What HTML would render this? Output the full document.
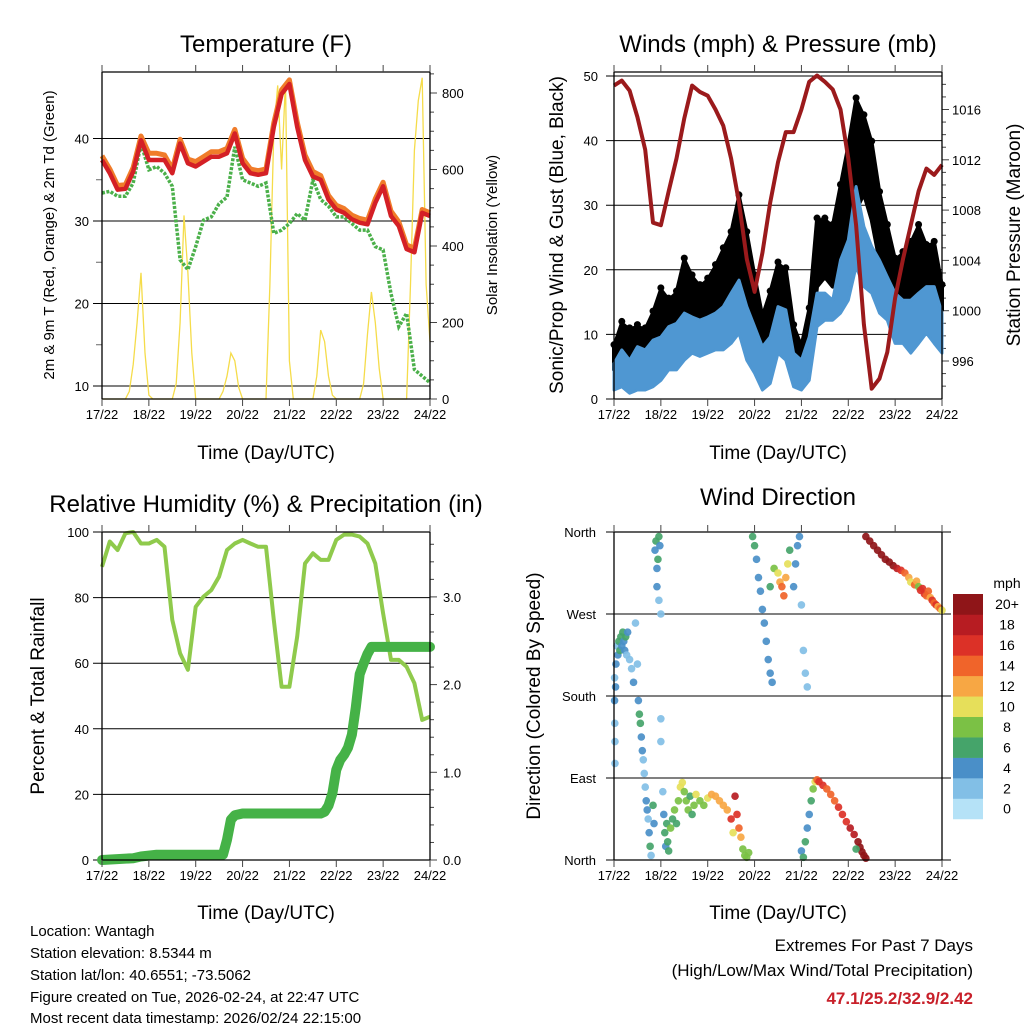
<!DOCTYPE html>
<html><head><meta charset="utf-8">
<style>
html,body{margin:0;padding:0;background:#fff;}
svg{display:block;font-family:"Liberation Sans",Arial,sans-serif;}
</style></head>
<body>
<svg id="chart" width="1024" height="1024" viewBox="0 0 1024 1024" xmlns="http://www.w3.org/2000/svg">
<rect x="0" y="0" width="1024" height="1024" fill="#fff"/>
<g id="layer"></g>
<g font-size="24" text-anchor="middle" fill="#000">
<text x="266" y="52">Temperature (F)</text>
<text x="778" y="52">Winds (mph) &amp; Pressure (mb)</text>
<text x="266" y="512">Relative Humidity (%) &amp; Precipitation (in)</text>
<text x="778" y="505">Wind Direction</text>
</g>
<g font-size="19" text-anchor="middle">
<text x="266" y="459">Time (Day/UTC)</text>
<text x="778" y="459">Time (Day/UTC)</text>
<text x="266" y="919">Time (Day/UTC)</text>
<text x="778" y="919">Time (Day/UTC)</text>
<text font-size="15" transform="translate(54,235) rotate(-90)">2m &amp; 9m T (Red, Orange) &amp; 2m Td (Green)</text>
<text font-size="15" transform="translate(497,235) rotate(-90)">Solar Insolation (Yellow)</text>
<text transform="translate(563,235) rotate(-90)">Sonic/Prop Wind &amp; Gust (Blue, Black)</text>
<text transform="translate(1020,235) rotate(-90)">Station Pressure (Maroon)</text>
<text transform="translate(44,696) rotate(-90)">Percent &amp; Total Rainfall</text>
<text transform="translate(540,696) rotate(-90)">Direction (Colored By Speed)</text>
</g>
<g font-size="15" fill="#000">
<text x="30" y="936">Location: Wantagh</text>
<text x="30" y="958">Station elevation: 8.5344 m</text>
<text x="30" y="980">Station lat/lon: 40.6551; -73.5062</text>
<text x="30" y="1002">Figure created on Tue, 2026-02-24, at 22:47 UTC</text>
<text x="30" y="1023">Most recent data timestamp: 2026/02/24 22:15:00</text>
<text x="973" y="951" font-size="17" text-anchor="end">Extremes For Past 7 Days</text>
<text x="973" y="976" font-size="17" text-anchor="end">(High/Low/Max Wind/Total Precipitation)</text>
<text x="973" y="1004" font-size="17" font-weight="bold" fill="#c8202a" text-anchor="end">47.1/25.2/32.9/2.42</text>
</g>
</svg>
<script>
// ---------- data ----------
const dayLabels = ["17/22","18/22","19/22","20/22","21/22","22/22","23/22","24/22"];
const tempTimes = [0,4,8,12,16,20,24,28,32,36,40,44,48,52,56,60,64,68,72,76,80,84,88,92,96,100,104,108,112,116,120,124,128,132,136,140,144,148,152,156,160,164,168];
const temp2m = [37.4,35.8,33.8,33.9,36,39.8,37.4,37.4,37.4,35.8,39.4,37,36.6,37.2,37.8,37.8,38.2,40.6,37,35.8,35.6,35.8,41.4,45.4,46.6,41.4,37.4,35.4,35,32.6,31.4,31,30.2,29.8,29.6,32.2,34.2,30.6,29.4,26.6,26.2,31,30.6];
const temp9m = [37.9,36.3,34.3,34.4,36.5,40.3,38.2,38.2,38,36.3,39.9,37.5,37.2,37.8,38.4,38.4,38.8,41.1,37.6,36.3,36.1,36.3,41.9,45.9,47.1,42,38,36,35.5,33.1,31.9,31.5,30.7,30.3,30.1,32.7,34.7,31.2,29.9,27.1,26.7,31.4,31];
const dewpoint = [33.4,33.6,33,33,34.6,39.4,36.2,36.6,35.8,34.2,25.3,24.1,26.9,30.1,30.5,32.1,32.9,39,35,34.6,34.2,34.6,28.5,28.9,29.7,30.9,30.1,35,32.6,31.8,30.5,30.5,29.7,28.9,28.9,26.9,26.5,21.2,17.2,18.8,12,11.2,10.4];
const solar = [0,0,0,0,0,0,0,
 20,90,200,330,120,10,0,0,0,0,0,0,
 40,200,480,330,120,0,0,0,0,0,0,0,
 20,60,120,100,30,0,0,0,0,0,0,0,
 300,700,820,600,830,100,0,0,0,0,0,0,
 60,180,150,60,10,0,0,0,0,0,0,0,
 40,170,280,200,80,0,0,0,0,0,0,0,
 300,650,780,840,300,150];
const windTimes = tempTimes;
const pressure = [1017.9,1018.3,1017.5,1015.4,1012.8,1007,1006.8,1009.5,1012.1,1015.3,1017.9,1017.4,1017.1,1016,1014.7,1012.1,1008.6,1004.1,1001.5,1004.6,1008.6,1011.8,1014.2,1014.2,1016,1018.2,1018.7,1018.2,1017.6,1016,1012.1,1006.8,998.9,993.8,994.6,996.7,1001,1004.1,1006.8,1009.5,1011.3,1010.8,1011.6];
const windHi = [5.5,7.6,6,8.1,7.6,9.1,9.6,11.2,11.7,13.3,12.7,12.2,12.7,13.3,14.3,16.4,18.4,14.3,11.2,8.1,9.6,14.3,13.8,7.1,6,9.6,16.4,16.4,15.3,21.5,24.6,32.9,26.7,23.6,21.5,18.9,16.4,15.3,15.3,16.4,17.4,17.4,13.3];
const windLo = [1.4,1.9,0.9,1.4,1.4,1.9,2.9,4.5,4.5,6,7.1,6.6,7.1,7.6,7.6,8.6,10.2,6,4,1.4,2.4,7.1,6,1.9,1.4,2.9,11.2,12.2,12.2,13.3,15.3,20.5,17.4,16.4,13.3,12.2,8.6,8.6,7.1,8.6,10.2,8.6,7.1];
const gustHi = [8.1,11.7,10.7,11.2,10.7,13.3,16.9,15.3,16.4,21.5,18.9,17.4,18.4,20.5,23.1,25.6,31.3,25.6,18.9,12.7,16.4,20.9,20,11.2,8.1,13.8,27.7,27.7,26.7,32.9,39.1,46.3,43.7,39.6,31.8,26.7,21.5,22.5,24.1,26.7,23.6,24.1,17.4];
const gustLo = [4.5,6,5,6,6,8.6,10.2,10.2,9.6,13.3,11.7,11.2,11.7,13.3,15.3,16.4,17.4,11.2,8.1,4,7.1,11.2,10.2,4,3.5,6,17.4,18.9,17.4,21.5,26.7,29.3,31.8,27.7,21.5,16.4,13.8,12.2,12.2,16.4,16.4,15.3,13.8];
const rhTimes = tempTimes;
const rh = [89.4,97.1,94.5,99.6,100,96.5,96.5,97.6,95.5,73.2,63,58,77.2,80.3,82.3,86.4,94.5,96.5,97.6,96.5,95.5,95.5,73.2,52.8,52.8,68.1,90.4,93.5,91.5,91.5,97.6,99.2,99.2,98.6,96.5,90.4,75.2,61,61,58.9,53.9,42.7,43.7];
const precipTimes = [0,16,20,28,62,64,66,68,72,112,114,116,118,120,122,124,126,128,130,132,134,136,138,140,168];
const precip = [0,0.02,0.04,0.06,0.06,0.23,0.46,0.51,0.53,0.53,0.55,0.62,0.76,1.03,1.14,1.2,1.28,1.43,1.74,2.12,2.24,2.35,2.43,2.43,2.43];
const dirTimes = [
 0.3,0.3,0.4,0.5,0.5,0.8,1,1.5,2,2.5,
 3,3.5,4,4.5,5,5.5,6,6.5,7,8,
 9,10,11,12,12.5,13,13.5,14,14.5,15,
 15.5,16,16.5,17,17.5,18,18.5,19,20,20.5,
 21,21.5,22,22.5,22,23,23,23.5,24,24,
 24,25,25.5,26,26.5,27,27.5,28,29,30,
 31,32,33,34,35,36,37,38,39,40,
 41,42,44,46,48,50,52,54,56,58,
 60,61,62,63,64,65,66,67,68,69,
 71,72,73,74,75,76,77,78,79,80,
 81,80,82,84,85,86,87,88,89,90,
 92,93,94,95,96,97,98,99,96,97,
 98,99,100,101,102,103,104,105,107,109,
 111,113,115,117,119,121,123,125,126,127,
 128,129,124,129,131,133,135,137,139,141,
 143,145,147,149,151,152,154,155,156,157,
 158,159,160,161,162,163,164,165,166,167,
 168];
const dirDeg = [
 200,175,150,130,106,190,215,235,225,240,
 230,245,235,250,240,230,245,225,250,220,
 210,195,260,215,175,160,150,135,120,110,
 95,80,65,55,45,30,15,5,60,40,
 340,350,320,330,300,285,355,345,270,155,
 130,75,50,30,15,40,20,10,35,45,
 55,40,65,80,85,75,65,55,70,50,
 60,72,65,60,68,72,70,65,60,55,
 45,30,70,50,35,25,12,5,3,8,
 355,345,330,310,295,275,260,240,220,205,
 195,300,320,315,305,300,290,310,325,340,
 300,325,345,355,280,230,205,190,10,3,
 20,35,50,65,78,86,88,86,82,78,
 72,65,58,50,42,35,28,20,14,9,
 5,2,12,355,350,345,340,335,330,327,
 323,320,318,315,310,305,302,306,300,296,
 298,292,290,295,288,285,282,280,278,276,
 274];
const dirSpd = [
 3,4,3,2,2,4,4,3,5,6,
 6,6,5,6,4,5,6,3,4,2,
 2,4,2,2,5,6,6,4,4,2,
 2,2,4,4,3,4,6,2,6,5,
 5,6,4,6,4,2,6,4,2,2,
 2,3,4,6,5,7,6,6,8,6,
 8,7,9,10,10,9,8,8,7,7,
 9,11,9,8,10,12,13,12,13,12,
 16,11,18,16,15,12,8,8,9,8,
 6,7,4,5,4,4,5,4,4,5,
 4,7,8,10,12,14,15,12,10,7,
 4,4,4,4,2,3,3,2,5,7,
 6,4,5,6,8,10,14,16,16,15,
 14,14,16,17,16,18,19,20,20,20,
 20,20,7,20,20,20,20,20,20,20,
 20,18,16,14,12,10,14,12,8,16,
 17,16,14,15,13,16,14,16,12,14,
 10];
const speedColors = ["#b5e2f7","#82bfe6","#4a8fc8","#45a46a","#7bc145","#e6df5a","#f7a744","#f0642a","#dc3127","#b71c22","#8f1518"];
const speedLabels = ["0","2","4","6","8","10","12","14","16","18","20+"];

// ---------- helpers ----------
const NS = "http://www.w3.org/2000/svg";
const layer = document.getElementById("layer");
function mk(tag, attrs, parent) {
  const e = document.createElementNS(NS, tag);
  for (const k in attrs) e.setAttribute(k, attrs[k]);
  (parent || layer).appendChild(e);
  return e;
}
function txt(x, y, s, anchor, size, parent) {
  const e = mk("text", {x: x, y: y, "text-anchor": anchor, "font-size": size}, parent);
  e.textContent = s;
  return e;
}
const TMAX = 168;
function xs(L, R) { return t => L + t / TMAX * (R - L); }
function lin(v0, y0, v1, y1) { return v => y0 + (v - v0) * (y1 - y0) / (v1 - v0); }
function pathOf(ts, vs, fx, fy) {
  return ts.map((t, i) => (i ? "L" : "M") + fx(t).toFixed(1) + "," + fy(vs[i]).toFixed(1)).join("");
}

function frame(L, R, T, B, name) {
  const g = mk("g", {});
  
  
  mk("line", {x1: L, y1: T, x2: L, y2: B, stroke: "#000", "stroke-width": 1.3}, g);
  mk("line", {x1: R, y1: T, x2: R, y2: B, stroke: "#000", "stroke-width": 1.3}, g);
  mk("line", {x1: L, y1: B, x2: R, y2: B, stroke: "#000", "stroke-width": 1.3}, g);
  mk("line", {x1: L, y1: T, x2: R, y2: T, stroke: "#000", "stroke-width": 1.3}, g);
  const fx = xs(L, R);
  dayLabels.forEach((d, i) => {
    const x = fx(i * 24);
    mk("line", {x1: x, y1: T - 7, x2: x, y2: T, stroke: "#444", "stroke-width": 1}, g);
    mk("line", {x1: x, y1: B, x2: x, y2: B + 7, stroke: "#444", "stroke-width": 1}, g);
    const t = txt(x, B + 20, d, "middle", 13, g);
    
    
  });
}
function grid(L, R, y, ext) {
  mk("line", {x1: L - ext, y1: y, x2: R, y2: y, stroke: "#000", "stroke-width": 1});
}

// ============ Panel 1: temperature ============
(function () {
  const L = 102, R = 430, T = 72, B = 399;
  const fx = xs(L, R);
  const fy = lin(30, 221, 40, 138.5);
  const fs = lin(0, 399, 800, 93);
  [10, 20, 30, 40].forEach(v => {
    grid(L, R, fy(v), 9);
    const t = txt(L - 13, fy(v) + 5, String(v), "end", 13);
    
    
  });
  [15, 25, 35].forEach(v => mk("line", {x1: L - 6, y1: fy(v), x2: L, y2: fy(v), stroke: "#666"}));
  for (let v = 0; v <= 850; v += 50) {
    const maj = v % 200 === 0;
    mk("line", {x1: R, y1: fs(v), x2: R + (maj ? 7 : 4), y2: fs(v), stroke: "#444"});
    if (maj) {
      const t = txt(R + 12, fs(v) + 5, String(v), "start", 13);
      
      
    }
  }
  const st = solar.map((_, i) => i * 2);
  const sp = mk("path", {d: pathOf(st, solar, fx, fs), fill: "none", stroke: "#f5dc4a", "stroke-width": 1.3});
  
  
  const dp = mk("path", {d: pathOf(tempTimes, dewpoint, fx, fy), fill: "none", stroke: "#4bb04a", "stroke-width": 3.5, "stroke-dasharray": "3 1.5"});
  
  
  const o = mk("path", {d: pathOf(tempTimes, temp9m, fx, fy), fill: "none", stroke: "#f07c2a", "stroke-width": 5, "stroke-linejoin": "round"});
  
  
  const r = mk("path", {d: pathOf(tempTimes, temp2m, fx, fy), fill: "none", stroke: "#d42026", "stroke-width": 4.5, "stroke-linejoin": "round"});
  
  
  frame(L, R, T, B, "temp");
})();

// ============ Panel 2: winds & pressure ============
(function () {
  const L = 614, R = 942, T = 72, B = 399;
  const fx = xs(L, R);
  const fy = lin(0, 399, 50, 76);
  const fp = lin(996, 361, 1016, 109.5);
  for (let v = 0; v <= 50; v += 10) {
    grid(L, R, fy(v), 8);
    const t = txt(L - 16, fy(v) + 5, String(v), "end", 13);
    
    
  }
  for (let v = 994; v <= 1018; v += 1) {
    const maj = v % 4 === 0;
    mk("line", {x1: R, y1: fp(v), x2: R + (maj ? 7 : 4), y2: fp(v), stroke: "#444"});
    if (maj) {
      const t = txt(R + 10, fp(v) + 5, String(v), "start", 13);
      
      
    }
  }
  const gtop = windTimes.map((t, i) => fx(t).toFixed(1) + "," + fy(gustHi[i]).toFixed(1));
  const gbot = windTimes.map((t, i) => fx(t).toFixed(1) + "," + fy(gustLo[i]).toFixed(1)).reverse();
  const gb = mk("polygon", {points: gtop.concat(gbot).join(" "), fill: "#000", stroke: "#000", "stroke-width": 4, "stroke-linejoin": "round"});
  
  
  windTimes.forEach((t, i) => {
    const c = mk("circle", {cx: fx(t), cy: fy(gustHi[i]) - 2, r: 3.5, fill: "#000"});
    
    
  });
  const btop = windTimes.map((t, i) => fx(t).toFixed(1) + "," + fy(windHi[i]).toFixed(1));
  const bbot = windTimes.map((t, i) => fx(t).toFixed(1) + "," + fy(windLo[i]).toFixed(1)).reverse();
  const bb = mk("polygon", {points: btop.concat(bbot).join(" "), fill: "#4f97d2", stroke: "#4f97d2", "stroke-width": 3, "stroke-linejoin": "round"});
  
  
  const p = mk("path", {d: pathOf(windTimes, pressure, fx, fp), fill: "none", stroke: "#9b1a1c", "stroke-width": 4, "stroke-linejoin": "round"});
  
  
  frame(L, R, T, B, "wind");
})();

// ============ Panel 3: RH & precip ============
(function () {
  const L = 102, R = 430, T = 532, B = 860;
  const fx = xs(L, R);
  const fy = lin(0, 860, 100, 532);
  const fp = lin(0, 860, 1, 772.3);
  for (let v = 0; v <= 100; v += 20) {
    grid(L, R, fy(v), 9);
    const t = txt(L - 13, fy(v) + 5, String(v), "end", 13);
    
    
  }
  for (let v = 0; v <= 3.7; v += 0.2) {
    const maj = Math.abs(v - Math.round(v)) < 0.01;
    mk("line", {x1: R, y1: fp(v), x2: R + (maj ? 7 : 4), y2: fp(v), stroke: "#444"});
    if (maj) {
      const t = txt(R + 13, fp(v) + 5, Math.round(v).toFixed(1), "start", 13);
      
      
    }
  }
  const r = mk("path", {d: pathOf(rhTimes, rh, fx, fy), fill: "none", stroke: "#8fca4c", "stroke-width": 4, "stroke-linejoin": "round"});
  
  
  const p = mk("path", {d: pathOf(precipTimes, precip, fx, fp), fill: "none", stroke: "#45b247", "stroke-width": 10, "stroke-linejoin": "round", "stroke-linecap": "round"});
  
  
  frame(L, R, T, B, "rh");
})();

// ============ Panel 4: wind direction ============
(function () {
  const L = 614, R = 942, T = 532, B = 860;
  const fx = xs(L, R);
  const fy = lin(0, 860, 360, 532);
  const names = ["North", "East", "South", "West", "North"];
  names.forEach((n, i) => {
    const y = fy(i * 90);
    mk("line", {x1: L - 8, y1: y, x2: R + 9, y2: y, stroke: "#000"});
    const t = txt(L - 18, y + 5, n, "end", 13);
    
    
  });
  const n = Math.min(dirTimes.length, dirDeg.length, dirSpd.length);
  for (let i = 0; i < n; i++) {
    const ci = Math.min(10, Math.floor(dirSpd[i] / 2));
    const c = mk("circle", {cx: fx(dirTimes[i]), cy: fy(dirDeg[i]), r: 3.8, fill: speedColors[ci], "fill-opacity": 0.92});
    
    
  }
  frame(L, R, T, B, "dir");
  const cb = mk("g", {});
  
  
  const h = 20.45;
  speedColors.forEach((c, i) => {
    const y = 594 + (10 - i) * h;
    mk("rect", {x: 953, y: y, width: 30, height: h + 0.3, fill: c}, cb);
    const t = txt(1007, y + h / 2 + 5, speedLabels[i], "middle", 14, cb);
    
    
  });
  const u = txt(1007, 588, "mph", "middle", 14, cb);
  
  
})();
</script>
</body></html>
